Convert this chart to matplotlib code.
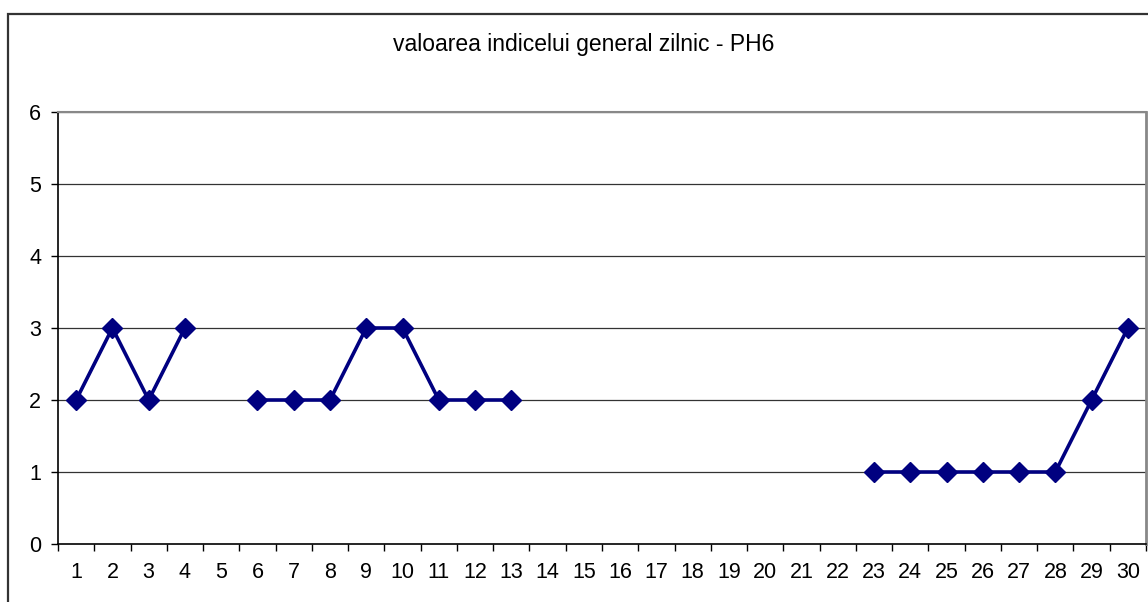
import numpy as np
import matplotlib
matplotlib.use("Agg")
import matplotlib.pyplot as plt
from matplotlib.patches import Rectangle

plt.rcParams['font.family'] = ['Liberation Sans', 'DejaVu Sans']

days = list(range(1, 31))
values = [2, 3, 2, 3, np.nan, 2, 2, 2, 3, 3, 2, 2, 2,
          np.nan, np.nan, np.nan, np.nan, np.nan, np.nan, np.nan, np.nan, np.nan,
          1, 1, 1, 1, 1, 1, 2, 3]
title = "valoarea indicelui general zilnic - PH6"
yticks = [0, 1, 2, 3, 4, 5, 6]

W, H = 1148, 602
fig = plt.figure(figsize=(W / 100, H / 100), dpi=100)
fig.patch.set_facecolor('white')

# outer chart frame (clipped at right/bottom like reference)
fig.patches.append(Rectangle((7.5 / W, -0.1), 1.2, (H - 13.5) / H + 0.1,
                             transform=fig.transFigure, fill=False,
                             edgecolor='#333333', linewidth=1.6, clip_on=True))

ax = fig.add_axes([58 / W, (H - 544) / H, 1088 / W, 432 / H])
x = np.arange(1, 31)
ax.plot(x, values, color='#000080', linewidth=2.6, marker='D', markersize=10,
        markerfacecolor='#000080', markeredgecolor='#000080', zorder=3, clip_on=False)

ax.set_xlim(0.5, 30.5)
ax.set_ylim(0, 6)
ax.set_yticks(yticks)
ax.set_yticklabels([str(v) for v in yticks])
ax.set_xticks(x)
ax.set_xticklabels([str(d) for d in days])
ax.set_xticks(np.arange(0.5, 31, 1), minor=True)
ax.tick_params(axis='x', which='major', length=0, pad=13, labelsize=15.5)
ax.tick_params(axis='x', which='minor', length=5, width=1, direction='out', color='black')
ax.tick_params(axis='y', which='major', length=5, width=1, direction='out', pad=7, labelsize=15.5)

for yv in yticks[1:]:
    ax.axhline(yv, color='#333333', linewidth=0.9, zorder=1)

ax.spines['left'].set_color('black')
ax.spines['left'].set_linewidth(1.2)
ax.spines['bottom'].set_color('black')
ax.spines['bottom'].set_linewidth(1.2)
ax.spines['right'].set_color('#888888')
ax.spines['right'].set_linewidth(2)
ax.spines['top'].set_color('#888888')
ax.spines['top'].set_linewidth(1.5)

fig.text(584 / W, 1 - 44 / H, title, ha='center', va='center', fontsize=16.5)

fig.savefig('out.png', dpi=100)
